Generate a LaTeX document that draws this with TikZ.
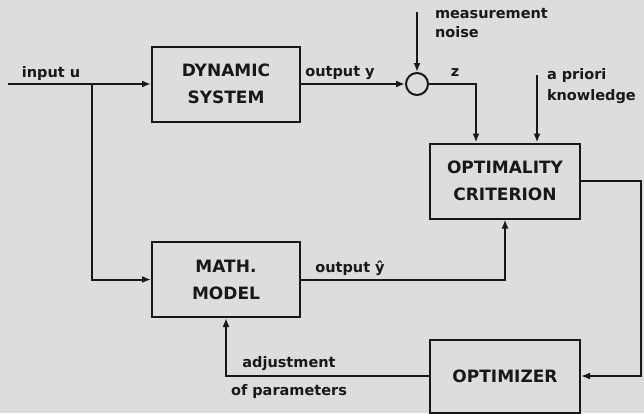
\documentclass[tikz,border=0pt]{standalone}
\usepackage{fontspec}
\setmainfont{DejaVu Sans}
\usetikzlibrary{arrows.meta}
\definecolor{paper}{RGB}{221,221,219}
\definecolor{ink}{RGB}{24,24,24}

\begin{document}
\begin{tikzpicture}[x=1pt, y=-1pt, line width=2pt,
    block/.style={draw=ink, line width=2pt, minimum width=148pt, minimum height=75pt,
      align=center, inner sep=0pt, text=ink, font=\fontsize{17}{27}\selectfont\bfseries},
    lbl/.style={inner sep=0pt, text=ink, font=\fontsize{14.5}{28}\selectfont\bfseries},
    sig/.style={draw=ink, -{Latex[length=9pt,width=7pt]}},
    wire/.style={draw=ink}]
        \fill[paper] (0,0) rectangle (644,413);
        \useasboundingbox (0,0) rectangle (644,413);
        % blocks
        \node[block] (dyn)  at (226,84)    {DYNAMIC\\SYSTEM};
        \node[block] (math) at (226,279.5) {MATH.\\MODEL};
        \node[block, minimum width=150pt] (crit) at (505,181) {OPTIMALITY\\CRITERION};
        \node[block, minimum width=150pt, minimum height=73pt] (opt) at (505,376) {OPTIMIZER};
        \node[draw=ink, circle, line width=2pt, minimum size=22pt, inner sep=0pt] (sum) at (417,84) {};
        % free ends
        \coordinate (in)      at (8,84);
        \coordinate (split)   at (92,84);
        \coordinate (noise)   at (417,12);
        \coordinate (apriori) at (537,75);
        \coordinate (ret)     at (641,181);
        % signals
        \draw[sig] (in) -- (dyn);
        \draw[sig] (split) |- (math);
        \draw[sig] (dyn) -- (sum);
        \draw[sig] (noise) -- (sum);
        \draw[sig] (sum) -| ([xshift=-29pt]crit.north);
        \draw[sig] (apriori) -- (apriori |- crit.north);
        \draw[sig] (math) -| (crit);
        \draw[sig] (crit) -- (ret) |- (opt);
        \draw[sig] (opt) -| (math);
        % labels
        \node[lbl] (inlbl)   at (51,73)   {input u};
        \node[lbl] (ylbl)    at (340,73)  {output y};
        \node[lbl] (zlbl)    at (455,73)  {z};
        \node[lbl, anchor=north west, align=left, font=\fontsize{14.5}{19}\selectfont\bfseries] (noiselbl) at (434,7) {measurement\\noise};
        \node[lbl, anchor=west, align=left, font=\fontsize{14.5}{21}\selectfont\bfseries] (aprlbl) at (546,86) {a priori\\knowledge};
        \node[lbl] (yhatlbl) at (350,268) {output ŷ};
        \node[lbl, align=center] (adjlbl) at (289,377) {adjustment\\of parameters};
\end{tikzpicture}
\end{document}
